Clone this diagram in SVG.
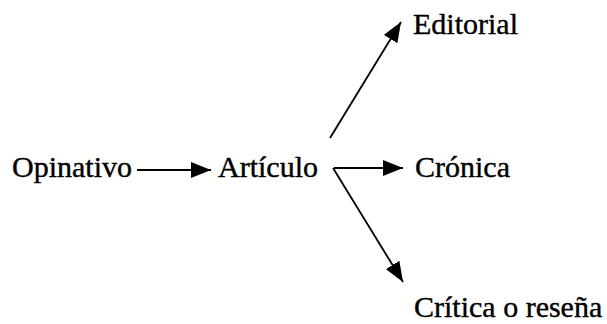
<svg xmlns="http://www.w3.org/2000/svg" width="607" height="324" viewBox="0 0 607 324">
<style>
  .lbl { font-family: "Liberation Serif", "Times New Roman", serif; font-size: 30px; fill: #000; stroke: #000; stroke-width: 0.4; }
  .conn { stroke: #000; stroke-width: 1.8; fill: none; marker-end: url(#ah); }
</style>
<defs>
  <marker id="ah" viewBox="0 0 20 16" refX="20" refY="8" markerWidth="20" markerHeight="16" markerUnits="userSpaceOnUse" orient="auto">
    <path d="M0,0 L20,8 L0,16 z" fill="#000"/>
  </marker>
</defs>
<rect width="607" height="324" fill="#fff"/>
<g id="connectors">
  <line class="conn" x1="137" y1="170" x2="211" y2="170"/>
  <line class="conn" x1="330" y1="138" x2="401" y2="22"/>
  <line class="conn" x1="334" y1="168" x2="403" y2="168"/>
  <line class="conn" x1="333" y1="168" x2="403" y2="282"/>
</g>
<g id="node-opinativo"><text class="lbl" x="12" y="177">Opinativo</text></g>
<g id="node-articulo"><text class="lbl" x="218" y="177">Artículo</text></g>
<g id="node-editorial"><text class="lbl" x="413" y="34">Editorial</text></g>
<g id="node-cronica"><text class="lbl" x="415" y="177">Crónica</text></g>
<g id="node-critica"><text class="lbl" x="414" y="317">Crítica o reseña</text></g>
</svg>
